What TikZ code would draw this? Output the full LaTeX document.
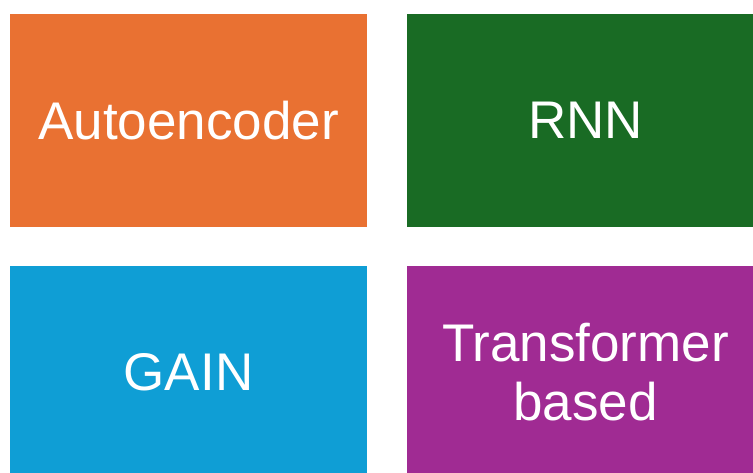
\documentclass[tikz,border=0pt]{standalone}
\usepackage{fontspec}
\setmainfont{Liberation Sans}
\definecolor{aeorange}{HTML}{E97132}
\definecolor{rnngreen}{HTML}{196B24}
\definecolor{gainblue}{HTML}{0F9ED5}
\definecolor{tfpurple}{HTML}{A02B93}
\tikzset{
  tile/.style={minimum width=357pt, minimum height=213pt, inner sep=0pt,
    text=white, align=center,
    font=\fontsize{53}{59}\selectfont}
}
\begin{document}
\begin{tikzpicture}[x=1pt,y=-1pt]
\useasboundingbox (0,0) rectangle (753,473);
\clip (0,0) rectangle (753,473);
\fill[white] (0,0) rectangle (753,473);
\node[tile, fill=aeorange] (ae) at (188.5,120.5) {Autoencoder};
\node[tile, fill=rnngreen] (rnn) at (585.5,120.5) {RNN};
\node[tile, fill=gainblue] (gain) at (188.5,372.5) {GAIN};
\node[tile, fill=tfpurple] (tf) at (585.5,372.5) {Transformer\\based};
\end{tikzpicture}
\end{document}
